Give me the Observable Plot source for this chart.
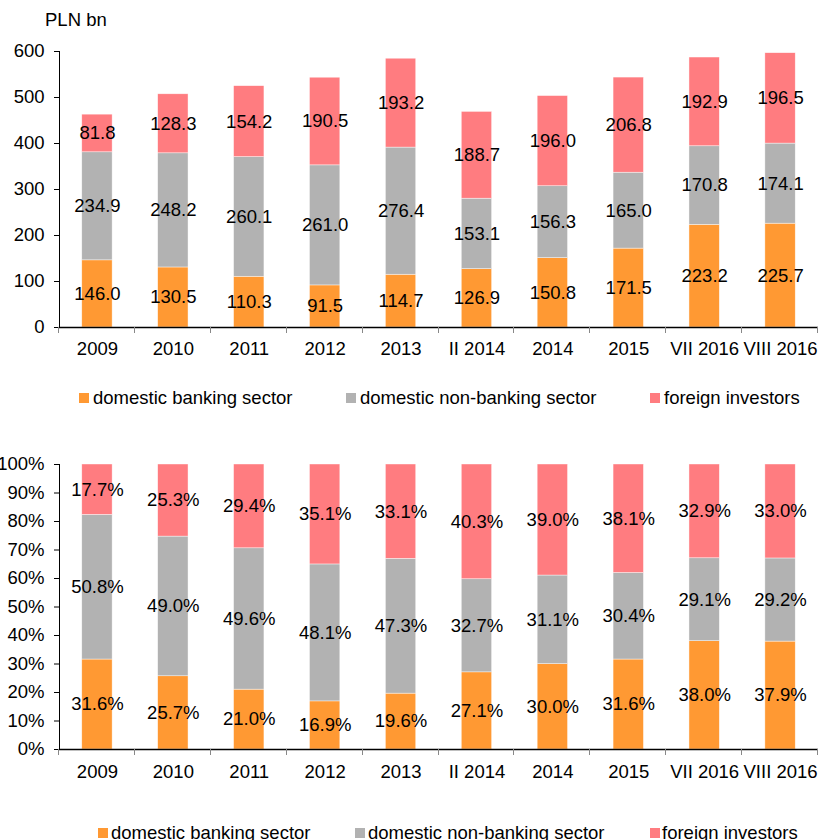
<!DOCTYPE html>
<html>
<head>
<meta charset="utf-8">
<script src="https://cdn.jsdelivr.net/npm/d3@7"></script>
<script src="https://cdn.jsdelivr.net/npm/@observablehq/plot@0.6"></script>
<style>
  body { margin: 0; background: #fff; }
  #root { position: relative; width: 818px; height: 840px; overflow: hidden; font-family: "Liberation Sans", Arial, sans-serif; color: #000; background: #fff; }
  .abs { position: absolute; }
  .unit { font-size: 18.5px; line-height: 22px; }
  .leg { position: absolute; font-size: 18.5px; line-height: 20px; white-space: nowrap; }
  .sw { position: absolute; width: 10px; height: 10px; }
</style>
</head>
<body>
<div id="root"></div>
<script>
const categories = ["2009", "2010", "2011", "2012", "2013", "II 2014", "2014", "2015", "VII 2016", "VIII 2016"];
const seriesNames = ["domestic banking sector", "domestic non-banking sector", "foreign investors"];
const seriesColors = ["#FF9933", "#B2B2B2", "#FF7C80"];

// PLN bn
const banking    = [146.0, 130.5, 110.3, 91.5, 114.7, 126.9, 150.8, 171.5, 223.2, 225.7];
const nonBanking = [234.9, 248.2, 260.1, 261.0, 276.4, 153.1, 156.3, 165.0, 170.8, 174.1];
const foreign    = [81.8, 128.3, 154.2, 190.5, 193.2, 188.7, 196.0, 206.8, 192.9, 196.5];

// shares, %
const bankingPct    = [31.6, 25.7, 21.0, 16.9, 19.6, 27.1, 30.0, 31.6, 38.0, 37.9];
const nonBankingPct = [50.8, 49.0, 49.6, 48.1, 47.3, 32.7, 31.1, 30.4, 29.1, 29.2];
const foreignPct    = [17.7, 25.3, 29.4, 35.1, 33.1, 40.3, 39.0, 38.1, 32.9, 33.0];

const topTicks = [0, 100, 200, 300, 400, 500, 600];
const bottomTicks = [0, 10, 20, 30, 40, 50, 60, 70, 80, 90, 100];

function longTable(a, b, c) {
  const rows = [];
  categories.forEach((cat, i) => {
    rows.push({cat, series: seriesNames[0], value: a[i]});
    rows.push({cat, series: seriesNames[1], value: b[i]});
    rows.push({cat, series: seriesNames[2], value: c[i]});
  });
  return rows;
}

function boundaryTicks(n) {
  return (index, scales, values, dims) => {
    const {width, height, marginLeft, marginRight, marginBottom} = dims;
    const step = (width - marginLeft - marginRight) / n;
    const g = d3.create("svg:g").attr("stroke", "#888").attr("stroke-width", 1);
    for (let i = 0; i <= n; i++) {
      const x = Math.round(marginLeft + i * step) - 0.5;
      g.append("line").attr("x1", x).attr("x2", x)
        .attr("y1", height - marginBottom).attr("y2", height - marginBottom + 6);
    }
    return g.node();
  };
}

function chart({data, height, marginTop, marginBottom, yDomain, ticks, tickFormat, labelFormat, offset, xPad}) {
  return Plot.plot({
    width: 818,
    height,
    marginTop,
    marginBottom,
    marginLeft: 59,
    marginRight: 0,
    style: {fontFamily: '"Liberation Sans", Arial, sans-serif', fontSize: "18.5px", color: "#000", background: "transparent", overflow: "visible"},
    x: {domain: categories, paddingInner: 0.6, paddingOuter: 0.3, round: false, label: null},
    y: {domain: yDomain, ticks, label: null},
    color: {domain: seriesNames, range: seriesColors},
    marks: [
      Plot.barY(data, Plot.stackY({offset, x: "cat", y: "value", z: "series", fill: "series", stroke: "#fff", strokeWidth: 0.6, strokeOpacity: 0.7})),
      Plot.text(data, Plot.stackY({offset, x: "cat", y: "value", z: "series", text: d => labelFormat(d.value), fill: "#000", fontSize: 18.5})),
      Plot.axisY({ticks, tickFormat, tickSize: 5, tickPadding: 10, fontSize: 18.5, stroke: "#000"}),
      Plot.axisX({tickSize: 0, tickPadding: xPad, fontSize: 18.5}),
      Plot.frame({anchor: "left", stroke: "#000"}),
      Plot.frame({anchor: "bottom", stroke: "#000", strokeWidth: 1.5}),
      boundaryTicks(categories.length)
    ]
  });
}

const root = document.getElementById("root");

const topChart = chart({
  data: longTable(banking, nonBanking, foreign),
  height: 370, marginTop: 51, marginBottom: 43,
  yDomain: [0, 600], ticks: topTicks, tickFormat: d => d,
  labelFormat: d3.format(".1f"), offset: null, xPad: 14
});
topChart.style.position = "absolute";
topChart.style.left = "0px";
topChart.style.top = "0px";
root.appendChild(topChart);

const bottomChart = chart({
  data: longTable(bankingPct, nonBankingPct, foreignPct),
  height: 360, marginTop: 24, marginBottom: 51,
  yDomain: [0, 1], ticks: bottomTicks.map(d => d / 100), tickFormat: d3.format(".0%"),
  labelFormat: d => d3.format(".1f")(d) + "%", offset: "normalize", xPad: 15
});
bottomChart.style.position = "absolute";
bottomChart.style.left = "0px";
bottomChart.style.top = "440px";
root.appendChild(bottomChart);

const unitLabel = document.createElement("div");
unitLabel.className = "abs unit";
unitLabel.style.left = "45px";
unitLabel.style.top = "9px";
unitLabel.textContent = "PLN bn";
root.appendChild(unitLabel);

function legend(cy, swatchX, textX) {
  seriesNames.forEach((name, i) => {
    const sw = document.createElement("div");
    sw.className = "sw";
    sw.style.background = seriesColors[i];
    sw.style.left = swatchX[i] + "px";
    sw.style.top = (cy - 5) + "px";
    root.appendChild(sw);
    const t = document.createElement("div");
    t.className = "leg";
    t.style.left = textX[i] + "px";
    t.style.top = (cy - 10) + "px";
    t.textContent = name;
    root.appendChild(t);
  });
}
legend(398, [79, 346, 650], [93, 360, 664]);
legend(833, [98, 355, 650], [111, 368, 662]);
</script>
</body>
</html>
